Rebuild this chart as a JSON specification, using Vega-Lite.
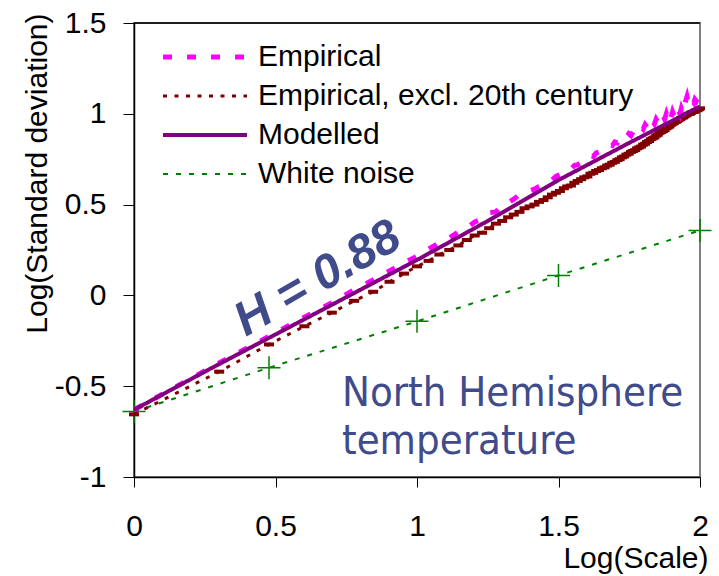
{
  "$schema": "https://vega.github.io/schema/vega-lite/v6.json",
  "width": 566,
  "height": 454,
  "autosize": {"type": "none"},
  "padding": {"left": 134, "top": 23, "right": 19, "bottom": 99},
  "background": "white",
  "config": {
    "view": {"stroke": "#808080", "strokeWidth": 2},
    "font": "Liberation Sans",
    "axis": {"labelFont": "Liberation Sans", "titleFont": "Liberation Sans", "labelColor": "black", "titleColor": "black", "domainColor": "black", "tickColor": "black", "grid": false, "titleFontWeight": "normal", "labelFlush": false}
  },
  "data": {"values": [
      {"note": "H = 0.88"},
      {"note": "North Hemisphere temperature"},
      {"series": "Modelled", "x": 0, "y": -0.63},
      {"series": "Modelled", "x": 0.25, "y": -0.42},
      {"series": "Modelled", "x": 0.5, "y": -0.215},
      {"series": "Modelled", "x": 0.75, "y": -0.01},
      {"series": "Modelled", "x": 1, "y": 0.195},
      {"series": "Modelled", "x": 1.25, "y": 0.41},
      {"series": "Modelled", "x": 1.5, "y": 0.635},
      {"series": "Modelled", "x": 1.75, "y": 0.84},
      {"series": "Modelled", "x": 2, "y": 1.04},
      {"series": "White noise", "x": 0, "y": -0.64},
      {"series": "White noise", "x": 0.477, "y": -0.398},
      {"series": "White noise", "x": 1, "y": -0.143},
      {"series": "White noise", "x": 1.5, "y": 0.11},
      {"series": "White noise", "x": 2, "y": 0.358},
      {"series": "Empirical", "x": 0, "y": -0.63},
      {"series": "Empirical", "x": 0.301, "y": -0.372},
      {"series": "Empirical", "x": 0.477, "y": -0.225},
      {"series": "Empirical", "x": 0.602, "y": -0.12},
      {"series": "Empirical", "x": 0.699, "y": -0.04},
      {"series": "Empirical", "x": 0.778, "y": 0.03},
      {"series": "Empirical", "x": 0.845, "y": 0.085},
      {"series": "Empirical", "x": 0.903, "y": 0.135},
      {"series": "Empirical", "x": 0.954, "y": 0.18},
      {"series": "Empirical", "x": 1.0, "y": 0.215},
      {"series": "Empirical", "x": 1.041, "y": 0.255},
      {"series": "Empirical", "x": 1.079, "y": 0.29},
      {"series": "Empirical", "x": 1.114, "y": 0.315},
      {"series": "Empirical", "x": 1.146, "y": 0.35},
      {"series": "Empirical", "x": 1.176, "y": 0.37},
      {"series": "Empirical", "x": 1.204, "y": 0.405},
      {"series": "Empirical", "x": 1.23, "y": 0.42},
      {"series": "Empirical", "x": 1.255, "y": 0.455},
      {"series": "Empirical", "x": 1.279, "y": 0.46},
      {"series": "Empirical", "x": 1.301, "y": 0.5},
      {"series": "Empirical", "x": 1.322, "y": 0.51},
      {"series": "Empirical", "x": 1.342, "y": 0.53},
      {"series": "Empirical", "x": 1.362, "y": 0.555},
      {"series": "Empirical", "x": 1.38, "y": 0.56},
      {"series": "Empirical", "x": 1.398, "y": 0.575},
      {"series": "Empirical", "x": 1.415, "y": 0.585},
      {"series": "Empirical", "x": 1.431, "y": 0.6},
      {"series": "Empirical", "x": 1.447, "y": 0.61},
      {"series": "Empirical", "x": 1.462, "y": 0.63},
      {"series": "Empirical", "x": 1.477, "y": 0.635},
      {"series": "Empirical", "x": 1.491, "y": 0.655},
      {"series": "Empirical", "x": 1.505, "y": 0.665},
      {"series": "Empirical", "x": 1.519, "y": 0.67},
      {"series": "Empirical", "x": 1.531, "y": 0.69},
      {"series": "Empirical", "x": 1.544, "y": 0.695},
      {"series": "Empirical", "x": 1.556, "y": 0.715},
      {"series": "Empirical", "x": 1.568, "y": 0.72},
      {"series": "Empirical", "x": 1.58, "y": 0.73},
      {"series": "Empirical", "x": 1.591, "y": 0.745},
      {"series": "Empirical", "x": 1.602, "y": 0.75},
      {"series": "Empirical", "x": 1.613, "y": 0.77},
      {"series": "Empirical", "x": 1.623, "y": 0.765},
      {"series": "Empirical", "x": 1.633, "y": 0.785},
      {"series": "Empirical", "x": 1.643, "y": 0.79},
      {"series": "Empirical", "x": 1.653, "y": 0.8},
      {"series": "Empirical", "x": 1.663, "y": 0.81},
      {"series": "Empirical", "x": 1.672, "y": 0.815},
      {"series": "Empirical", "x": 1.681, "y": 0.83},
      {"series": "Empirical", "x": 1.69, "y": 0.825},
      {"series": "Empirical", "x": 1.699, "y": 0.845},
      {"series": "Empirical", "x": 1.708, "y": 0.84},
      {"series": "Empirical", "x": 1.716, "y": 0.86},
      {"series": "Empirical", "x": 1.724, "y": 0.855},
      {"series": "Empirical", "x": 1.732, "y": 0.875},
      {"series": "Empirical", "x": 1.74, "y": 0.87},
      {"series": "Empirical", "x": 1.748, "y": 0.89},
      {"series": "Empirical", "x": 1.756, "y": 0.88},
      {"series": "Empirical", "x": 1.763, "y": 0.9},
      {"series": "Empirical", "x": 1.771, "y": 0.895},
      {"series": "Empirical", "x": 1.778, "y": 0.915},
      {"series": "Empirical", "x": 1.785, "y": 0.905},
      {"series": "Empirical", "x": 1.792, "y": 0.925},
      {"series": "Empirical", "x": 1.799, "y": 0.915},
      {"series": "Empirical", "x": 1.806, "y": 0.94},
      {"series": "Empirical", "x": 1.813, "y": 0.925},
      {"series": "Empirical", "x": 1.82, "y": 0.95},
      {"series": "Empirical", "x": 1.826, "y": 0.935},
      {"series": "Empirical", "x": 1.833, "y": 0.96},
      {"series": "Empirical", "x": 1.839, "y": 0.945},
      {"series": "Empirical", "x": 1.845, "y": 0.97},
      {"series": "Empirical", "x": 1.851, "y": 0.955},
      {"series": "Empirical", "x": 1.857, "y": 0.98},
      {"series": "Empirical", "x": 1.863, "y": 0.965},
      {"series": "Empirical", "x": 1.869, "y": 0.99},
      {"series": "Empirical", "x": 1.875, "y": 0.97},
      {"series": "Empirical", "x": 1.881, "y": 1.0},
      {"series": "Empirical", "x": 1.886, "y": 0.975},
      {"series": "Empirical", "x": 1.892, "y": 1.005},
      {"series": "Empirical", "x": 1.898, "y": 0.98},
      {"series": "Empirical", "x": 1.903, "y": 1.01},
      {"series": "Empirical", "x": 1.908, "y": 0.99},
      {"series": "Empirical", "x": 1.914, "y": 1.015},
      {"series": "Empirical", "x": 1.919, "y": 0.995},
      {"series": "Empirical", "x": 1.924, "y": 1.02},
      {"series": "Empirical", "x": 1.929, "y": 1.0},
      {"series": "Empirical", "x": 1.934, "y": 1.03},
      {"series": "Empirical", "x": 1.94, "y": 1.005},
      {"series": "Empirical", "x": 1.944, "y": 1.04},
      {"series": "Empirical", "x": 1.949, "y": 1.07},
      {"series": "Empirical", "x": 1.954, "y": 1.095},
      {"series": "Empirical", "x": 1.959, "y": 1.06},
      {"series": "Empirical", "x": 1.964, "y": 1.04},
      {"series": "Empirical", "x": 1.968, "y": 1.05},
      {"series": "Empirical", "x": 1.973, "y": 1.07},
      {"series": "Empirical", "x": 1.978, "y": 1.06},
      {"series": "Empirical", "x": 1.982, "y": 1.08},
      {"series": "Empirical", "x": 1.987, "y": 1.07},
      {"series": "Empirical", "x": 1.991, "y": 1.085},
      {"series": "Empirical", "x": 1.996, "y": 1.06},
      {"series": "Empirical", "x": 2.0, "y": 1.05},
      {"series": "Empirical, excl. 20th century", "x": 0, "y": -0.655},
      {"series": "Empirical, excl. 20th century", "x": 0.301, "y": -0.42},
      {"series": "Empirical, excl. 20th century", "x": 0.477, "y": -0.27},
      {"series": "Empirical, excl. 20th century", "x": 0.602, "y": -0.17},
      {"series": "Empirical, excl. 20th century", "x": 0.699, "y": -0.095},
      {"series": "Empirical, excl. 20th century", "x": 0.778, "y": -0.03},
      {"series": "Empirical, excl. 20th century", "x": 0.845, "y": 0.02},
      {"series": "Empirical, excl. 20th century", "x": 0.903, "y": 0.075},
      {"series": "Empirical, excl. 20th century", "x": 0.954, "y": 0.12},
      {"series": "Empirical, excl. 20th century", "x": 1.0, "y": 0.16},
      {"series": "Empirical, excl. 20th century", "x": 1.041, "y": 0.19},
      {"series": "Empirical, excl. 20th century", "x": 1.079, "y": 0.225},
      {"series": "Empirical, excl. 20th century", "x": 1.114, "y": 0.25},
      {"series": "Empirical, excl. 20th century", "x": 1.146, "y": 0.275},
      {"series": "Empirical, excl. 20th century", "x": 1.176, "y": 0.305},
      {"series": "Empirical, excl. 20th century", "x": 1.204, "y": 0.33},
      {"series": "Empirical, excl. 20th century", "x": 1.23, "y": 0.345},
      {"series": "Empirical, excl. 20th century", "x": 1.255, "y": 0.37},
      {"series": "Empirical, excl. 20th century", "x": 1.279, "y": 0.395},
      {"series": "Empirical, excl. 20th century", "x": 1.301, "y": 0.41},
      {"series": "Empirical, excl. 20th century", "x": 1.322, "y": 0.43},
      {"series": "Empirical, excl. 20th century", "x": 1.342, "y": 0.445},
      {"series": "Empirical, excl. 20th century", "x": 1.362, "y": 0.46},
      {"series": "Empirical, excl. 20th century", "x": 1.38, "y": 0.48},
      {"series": "Empirical, excl. 20th century", "x": 1.398, "y": 0.49},
      {"series": "Empirical, excl. 20th century", "x": 1.415, "y": 0.5},
      {"series": "Empirical, excl. 20th century", "x": 1.431, "y": 0.515},
      {"series": "Empirical, excl. 20th century", "x": 1.447, "y": 0.525},
      {"series": "Empirical, excl. 20th century", "x": 1.462, "y": 0.54},
      {"series": "Empirical, excl. 20th century", "x": 1.477, "y": 0.555},
      {"series": "Empirical, excl. 20th century", "x": 1.491, "y": 0.565},
      {"series": "Empirical, excl. 20th century", "x": 1.505, "y": 0.575},
      {"series": "Empirical, excl. 20th century", "x": 1.519, "y": 0.59},
      {"series": "Empirical, excl. 20th century", "x": 1.531, "y": 0.6},
      {"series": "Empirical, excl. 20th century", "x": 1.544, "y": 0.605},
      {"series": "Empirical, excl. 20th century", "x": 1.556, "y": 0.62},
      {"series": "Empirical, excl. 20th century", "x": 1.568, "y": 0.63},
      {"series": "Empirical, excl. 20th century", "x": 1.58, "y": 0.64},
      {"series": "Empirical, excl. 20th century", "x": 1.591, "y": 0.65},
      {"series": "Empirical, excl. 20th century", "x": 1.602, "y": 0.655},
      {"series": "Empirical, excl. 20th century", "x": 1.613, "y": 0.67},
      {"series": "Empirical, excl. 20th century", "x": 1.623, "y": 0.675},
      {"series": "Empirical, excl. 20th century", "x": 1.633, "y": 0.685},
      {"series": "Empirical, excl. 20th century", "x": 1.643, "y": 0.69},
      {"series": "Empirical, excl. 20th century", "x": 1.653, "y": 0.7},
      {"series": "Empirical, excl. 20th century", "x": 1.663, "y": 0.705},
      {"series": "Empirical, excl. 20th century", "x": 1.672, "y": 0.715},
      {"series": "Empirical, excl. 20th century", "x": 1.681, "y": 0.72},
      {"series": "Empirical, excl. 20th century", "x": 1.69, "y": 0.73},
      {"series": "Empirical, excl. 20th century", "x": 1.699, "y": 0.735},
      {"series": "Empirical, excl. 20th century", "x": 1.708, "y": 0.745},
      {"series": "Empirical, excl. 20th century", "x": 1.716, "y": 0.75},
      {"series": "Empirical, excl. 20th century", "x": 1.724, "y": 0.76},
      {"series": "Empirical, excl. 20th century", "x": 1.732, "y": 0.765},
      {"series": "Empirical, excl. 20th century", "x": 1.74, "y": 0.775},
      {"series": "Empirical, excl. 20th century", "x": 1.748, "y": 0.78},
      {"series": "Empirical, excl. 20th century", "x": 1.756, "y": 0.79},
      {"series": "Empirical, excl. 20th century", "x": 1.763, "y": 0.795},
      {"series": "Empirical, excl. 20th century", "x": 1.771, "y": 0.8},
      {"series": "Empirical, excl. 20th century", "x": 1.778, "y": 0.81},
      {"series": "Empirical, excl. 20th century", "x": 1.785, "y": 0.815},
      {"series": "Empirical, excl. 20th century", "x": 1.792, "y": 0.82},
      {"series": "Empirical, excl. 20th century", "x": 1.799, "y": 0.83},
      {"series": "Empirical, excl. 20th century", "x": 1.806, "y": 0.835},
      {"series": "Empirical, excl. 20th century", "x": 1.813, "y": 0.845},
      {"series": "Empirical, excl. 20th century", "x": 1.82, "y": 0.85},
      {"series": "Empirical, excl. 20th century", "x": 1.826, "y": 0.86},
      {"series": "Empirical, excl. 20th century", "x": 1.833, "y": 0.865},
      {"series": "Empirical, excl. 20th century", "x": 1.839, "y": 0.87},
      {"series": "Empirical, excl. 20th century", "x": 1.845, "y": 0.88},
      {"series": "Empirical, excl. 20th century", "x": 1.851, "y": 0.885},
      {"series": "Empirical, excl. 20th century", "x": 1.857, "y": 0.895},
      {"series": "Empirical, excl. 20th century", "x": 1.863, "y": 0.9},
      {"series": "Empirical, excl. 20th century", "x": 1.869, "y": 0.905},
      {"series": "Empirical, excl. 20th century", "x": 1.875, "y": 0.91},
      {"series": "Empirical, excl. 20th century", "x": 1.881, "y": 0.92},
      {"series": "Empirical, excl. 20th century", "x": 1.886, "y": 0.925},
      {"series": "Empirical, excl. 20th century", "x": 1.892, "y": 0.93},
      {"series": "Empirical, excl. 20th century", "x": 1.898, "y": 0.94},
      {"series": "Empirical, excl. 20th century", "x": 1.903, "y": 0.945},
      {"series": "Empirical, excl. 20th century", "x": 1.908, "y": 0.95},
      {"series": "Empirical, excl. 20th century", "x": 1.914, "y": 0.955},
      {"series": "Empirical, excl. 20th century", "x": 1.919, "y": 0.96},
      {"series": "Empirical, excl. 20th century", "x": 1.924, "y": 0.965},
      {"series": "Empirical, excl. 20th century", "x": 1.929, "y": 0.97},
      {"series": "Empirical, excl. 20th century", "x": 1.934, "y": 0.975},
      {"series": "Empirical, excl. 20th century", "x": 1.94, "y": 0.98},
      {"series": "Empirical, excl. 20th century", "x": 1.944, "y": 0.985},
      {"series": "Empirical, excl. 20th century", "x": 1.949, "y": 0.99},
      {"series": "Empirical, excl. 20th century", "x": 1.954, "y": 0.995},
      {"series": "Empirical, excl. 20th century", "x": 1.959, "y": 1.0},
      {"series": "Empirical, excl. 20th century", "x": 1.964, "y": 1.0},
      {"series": "Empirical, excl. 20th century", "x": 1.968, "y": 1.005},
      {"series": "Empirical, excl. 20th century", "x": 1.973, "y": 1.01},
      {"series": "Empirical, excl. 20th century", "x": 1.978, "y": 1.01},
      {"series": "Empirical, excl. 20th century", "x": 1.982, "y": 1.015},
      {"series": "Empirical, excl. 20th century", "x": 1.987, "y": 1.02},
      {"series": "Empirical, excl. 20th century", "x": 1.991, "y": 1.02},
      {"series": "Empirical, excl. 20th century", "x": 1.996, "y": 1.025},
      {"series": "Empirical, excl. 20th century", "x": 2.0, "y": 1.03}
  ]},
  "layer": [
    {
      "transform": [{"filter": "datum.series == 'White noise'"}],
      "mark": {"type": "line", "strokeWidth": 2},
      "encoding": {
        "x": {"field": "x", "type": "quantitative", "scale": {"domain": [0, 2], "nice": false, "zero": false},
          "axis": {"values": [0, 0.5, 1, 1.5, 2], "labelExpr": "'' + datum.value", "labelFontSize": 30, "tickSize": 10, "labelPadding": 24, "domainWidth": 1.5,
            "title": "Log(Scale)", "titleFontSize": 30, "titleAnchor": "end", "titleAlign": "right", "titleX": 574, "titlePadding": 2}},
        "y": {"field": "y", "type": "quantitative", "scale": {"domain": [-1, 1.5], "nice": false, "zero": false},
          "axis": {"values": [-1, -0.5, 0, 0.5, 1, 1.5], "labelExpr": "'' + datum.value", "labelFontSize": 30, "tickSize": 11, "labelPadding": 17, "domainWidth": 1.5,
            "title": "Log(Standard deviation)", "titleFontSize": 30, "titleAnchor": "end", "titleY": -10, "titlePadding": 2}},
        "color": {"field": "series", "type": "nominal", "scale": {"domain": ["Empirical", "Empirical, excl. 20th century", "Modelled", "White noise"], "range": ["#ff00ff", "#800000", "#800080", "#008000"]},
          "legend": {"title": null, "orient": "none", "legendX": 24, "legendY": 19, "padding": 0, "labelFont": "Liberation Sans", "labelFontSize": 30, "labelColor": "black", "labelLimit": 500, "symbolType": "M-4.2,0H4.2", "symbolSize": 400, "symbolOffset": 32, "labelOffset": 38, "rowPadding": 9,
            "encode": {"symbols": {"update": {"strokeWidth": {"signal": "datum.value == 'Empirical' ? 5 : datum.value == 'Modelled' ? 4 : datum.value == 'White noise' ? 2 : 3"}}}}}},
        "strokeDash": {"field": "series", "type": "nominal", "scale": {"domain": ["Empirical", "Empirical, excl. 20th century", "Modelled", "White noise"], "range": [[9, 15], [4, 7.5], [1, 0], [5, 8]]}}
      }
    },
    {
      "transform": [{"filter": "datum.note == 'H = 0.88'"}],
      "mark": {"type": "rule", "color": "black", "strokeWidth": 1.5},
      "encoding": {"y": {"datum": 1.5}, "x": {"datum": 0}, "x2": {"datum": 2}}
    },
    {
      "transform": [{"filter": "datum.series == 'White noise'"}],
      "mark": {"type": "point", "shape": "M-1,0H1M0,-1V1", "size": 529, "filled": false, "color": "#008000", "strokeWidth": 1.5, "opacity": 1},
      "encoding": {"x": {"field": "x", "type": "quantitative"}, "y": {"field": "y", "type": "quantitative"}}
    },
    {
      "transform": [{"filter": "datum.series == 'Empirical, excl. 20th century'"}],
      "mark": {"type": "line", "strokeWidth": 3},
      "encoding": {
        "x": {"field": "x", "type": "quantitative"}, "y": {"field": "y", "type": "quantitative"},
        "color": {"field": "series", "type": "nominal"},
        "strokeDash": {"field": "series", "type": "nominal"}
      }
    },
    {
      "transform": [{"filter": "datum.series == 'Empirical, excl. 20th century'"}],
      "mark": {"type": "point", "shape": "M-1,-0.4H1V0.4H-1Z", "size": 100, "filled": true, "color": "#800000", "opacity": 1},
      "encoding": {"x": {"field": "x", "type": "quantitative"}, "y": {"field": "y", "type": "quantitative"}}
    },
    {
      "transform": [{"filter": "datum.series == 'Empirical'"}],
      "mark": {"type": "line", "strokeWidth": 5},
      "encoding": {
        "x": {"field": "x", "type": "quantitative"}, "y": {"field": "y", "type": "quantitative"},
        "color": {"field": "series", "type": "nominal"},
        "strokeDash": {"field": "series", "type": "nominal"}
      }
    },
    {
      "transform": [{"filter": "datum.series == 'Modelled'"}],
      "mark": {"type": "line", "strokeWidth": 4},
      "encoding": {
        "x": {"field": "x", "type": "quantitative"}, "y": {"field": "y", "type": "quantitative"},
        "color": {"field": "series", "type": "nominal"},
        "strokeDash": {"field": "series", "type": "nominal"}
      }
    },
    {
      "transform": [{"filter": "datum.note == 'H = 0.88'"}],
      "mark": {"type": "text", "angle": -30, "align": "center", "baseline": "middle", "font": "Liberation Sans", "fontSize": 48, "fontWeight": "bold", "fontStyle": "italic", "color": "#404b8c"},
      "encoding": {"text": {"field": "note"}, "x": {"datum": 0.65}, "y": {"datum": 0.09}}
    },
    {
      "transform": [{"filter": "datum.note == 'North Hemisphere temperature'"}],
      "mark": {"type": "text", "text": ["North Hemisphere", "temperature"], "align": "left", "baseline": "alphabetic", "lineHeight": 48, "font": "DejaVu Sans Condensed, DejaVu Sans", "fontSize": 41.5, "color": "#404b8c"},
      "encoding": {"x": {"datum": 0.735}, "y": {"datum": -0.611}}
    }
  ]
}
